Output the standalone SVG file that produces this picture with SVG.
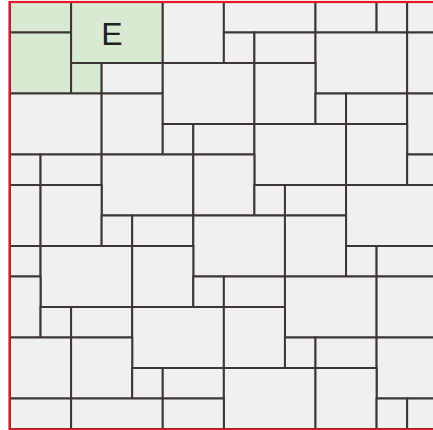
<svg xmlns="http://www.w3.org/2000/svg" width="433" height="430" viewBox="0 0 433 430">
<style>
  rect.t { fill: #f0f0f0; stroke: #3e3636; stroke-width: 2; }
  rect.g { fill: #d9ead3; stroke: #3e3636; stroke-width: 2; }
  text.lbl { font-family: "Liberation Sans", Arial, sans-serif; font-size: 32px; fill: #231f20; text-anchor: middle; }
  rect.frame { fill: none; stroke: #e3192b; stroke-width: 2.2; }
</style>
<rect x="0" y="0" width="433" height="430" fill="#ffffff"/>
<g id="nodes">
<g id="n1"><rect class="g" x="10" y="2" width="61.1" height="30.5"/></g>
<g id="n2"><rect class="g" x="10" y="32.5" width="61.1" height="61"/></g>
<g id="n3"><rect class="g" x="71.1" y="2" width="91.65" height="61"/><text class="lbl" x="112" y="45">E</text></g>
<g id="n4"><rect class="g" x="71.1" y="63" width="30.55" height="30.5"/></g>
<g id="n5"><rect class="t" x="101.65" y="63" width="61.1" height="30.5"/></g>
<g id="n6"><rect class="t" x="162.75" y="2" width="61.1" height="61"/></g>
<g id="n7"><rect class="t" x="223.85" y="2" width="91.65" height="30.5"/></g>
<g id="n8"><rect class="t" x="315.5" y="2" width="61.1" height="30.5"/></g>
<g id="n9"><rect class="t" x="376.6" y="2" width="30.55" height="30.5"/></g>
<g id="n10"><rect class="t" x="407.15" y="2" width="30.55" height="30.5"/></g>
<g id="n11"><rect class="t" x="223.85" y="32.5" width="30.55" height="30.5"/></g>
<g id="n12"><rect class="t" x="254.4" y="32.5" width="61.1" height="30.5"/></g>
<g id="n13"><rect class="t" x="315.5" y="32.5" width="91.65" height="61"/></g>
<g id="n14"><rect class="t" x="407.15" y="32.5" width="30.55" height="61"/></g>
<g id="n15"><rect class="t" x="10" y="93.5" width="91.65" height="61"/></g>
<g id="n16"><rect class="t" x="101.65" y="93.5" width="61.1" height="61"/></g>
<g id="n17"><rect class="t" x="162.75" y="63" width="91.65" height="61"/></g>
<g id="n18"><rect class="t" x="254.4" y="63" width="61.1" height="61"/></g>
<g id="n19"><rect class="t" x="315.5" y="93.5" width="30.55" height="30.5"/></g>
<g id="n20"><rect class="t" x="346.05" y="93.5" width="61.1" height="30.5"/></g>
<g id="n21"><rect class="t" x="407.15" y="93.5" width="30.55" height="61"/></g>
<g id="n22"><rect class="t" x="162.75" y="124" width="30.55" height="30.5"/></g>
<g id="n23"><rect class="t" x="193.3" y="124" width="61.1" height="30.5"/></g>
<g id="n24"><rect class="t" x="254.4" y="124" width="91.65" height="61"/></g>
<g id="n25"><rect class="t" x="346.05" y="124" width="61.1" height="61"/></g>
<g id="n26"><rect class="t" x="407.15" y="154.5" width="30.55" height="30.5"/></g>
<g id="n27"><rect class="t" x="10" y="154.5" width="30.55" height="30.5"/></g>
<g id="n28"><rect class="t" x="40.55" y="154.5" width="61.1" height="30.5"/></g>
<g id="n29"><rect class="t" x="101.65" y="154.5" width="91.65" height="61"/></g>
<g id="n30"><rect class="t" x="193.3" y="154.5" width="61.1" height="61"/></g>
<g id="n31"><rect class="t" x="10" y="185" width="30.55" height="61"/></g>
<g id="n32"><rect class="t" x="40.55" y="185" width="61.1" height="61"/></g>
<g id="n33"><rect class="t" x="254.4" y="185" width="30.55" height="30.5"/></g>
<g id="n34"><rect class="t" x="284.95" y="185" width="61.1" height="30.5"/></g>
<g id="n35"><rect class="t" x="346.05" y="185" width="91.65" height="61"/></g>
<g id="n36"><rect class="t" x="101.65" y="215.5" width="30.55" height="30.5"/></g>
<g id="n37"><rect class="t" x="132.2" y="215.5" width="61.1" height="30.5"/></g>
<g id="n38"><rect class="t" x="193.3" y="215.5" width="91.65" height="61"/></g>
<g id="n39"><rect class="t" x="284.95" y="215.5" width="61.1" height="61"/></g>
<g id="n40"><rect class="t" x="10" y="246" width="30.55" height="30.5"/></g>
<g id="n41"><rect class="t" x="40.55" y="246" width="91.65" height="61"/></g>
<g id="n42"><rect class="t" x="132.2" y="246" width="61.1" height="61"/></g>
<g id="n43"><rect class="t" x="346.05" y="246" width="30.55" height="30.5"/></g>
<g id="n44"><rect class="t" x="376.6" y="246" width="61.1" height="30.5"/></g>
<g id="n45"><rect class="t" x="193.3" y="276.5" width="30.55" height="30.5"/></g>
<g id="n46"><rect class="t" x="223.85" y="276.5" width="61.1" height="30.5"/></g>
<g id="n47"><rect class="t" x="284.95" y="276.5" width="91.65" height="61"/></g>
<g id="n48"><rect class="t" x="376.6" y="276.5" width="61.1" height="61"/></g>
<g id="n49"><rect class="t" x="10" y="276.5" width="30.55" height="61"/></g>
<g id="n50"><rect class="t" x="40.55" y="307" width="30.55" height="30.5"/></g>
<g id="n51"><rect class="t" x="71.1" y="307" width="61.1" height="30.5"/></g>
<g id="n52"><rect class="t" x="132.2" y="307" width="91.65" height="61"/></g>
<g id="n53"><rect class="t" x="223.85" y="307" width="61.1" height="61"/></g>
<g id="n54"><rect class="t" x="284.95" y="337.5" width="30.55" height="30.5"/></g>
<g id="n55"><rect class="t" x="315.5" y="337.5" width="61.1" height="30.5"/></g>
<g id="n56"><rect class="t" x="376.6" y="337.5" width="61.1" height="61"/></g>
<g id="n57"><rect class="t" x="10" y="337.5" width="61.1" height="61"/></g>
<g id="n58"><rect class="t" x="71.1" y="337.5" width="61.1" height="61"/></g>
<g id="n59"><rect class="t" x="132.2" y="368" width="30.55" height="30.5"/></g>
<g id="n60"><rect class="t" x="162.75" y="368" width="61.1" height="30.5"/></g>
<g id="n61"><rect class="t" x="223.85" y="368" width="91.65" height="61"/></g>
<g id="n62"><rect class="t" x="315.5" y="368" width="61.1" height="61"/></g>
<g id="n63"><rect class="t" x="10" y="398.5" width="61.1" height="30.5"/></g>
<g id="n64"><rect class="t" x="71.1" y="398.5" width="91.65" height="30.5"/></g>
<g id="n65"><rect class="t" x="162.75" y="398.5" width="61.1" height="30.5"/></g>
<g id="n66"><rect class="t" x="376.6" y="398.5" width="30.55" height="30.5"/></g>
<g id="n67"><rect class="t" x="407.15" y="398.5" width="30.55" height="30.5"/></g>
</g>
<g id="connectors"></g>
<rect class="frame" x="9.5" y="2" width="440" height="427.5"/>
</svg>
